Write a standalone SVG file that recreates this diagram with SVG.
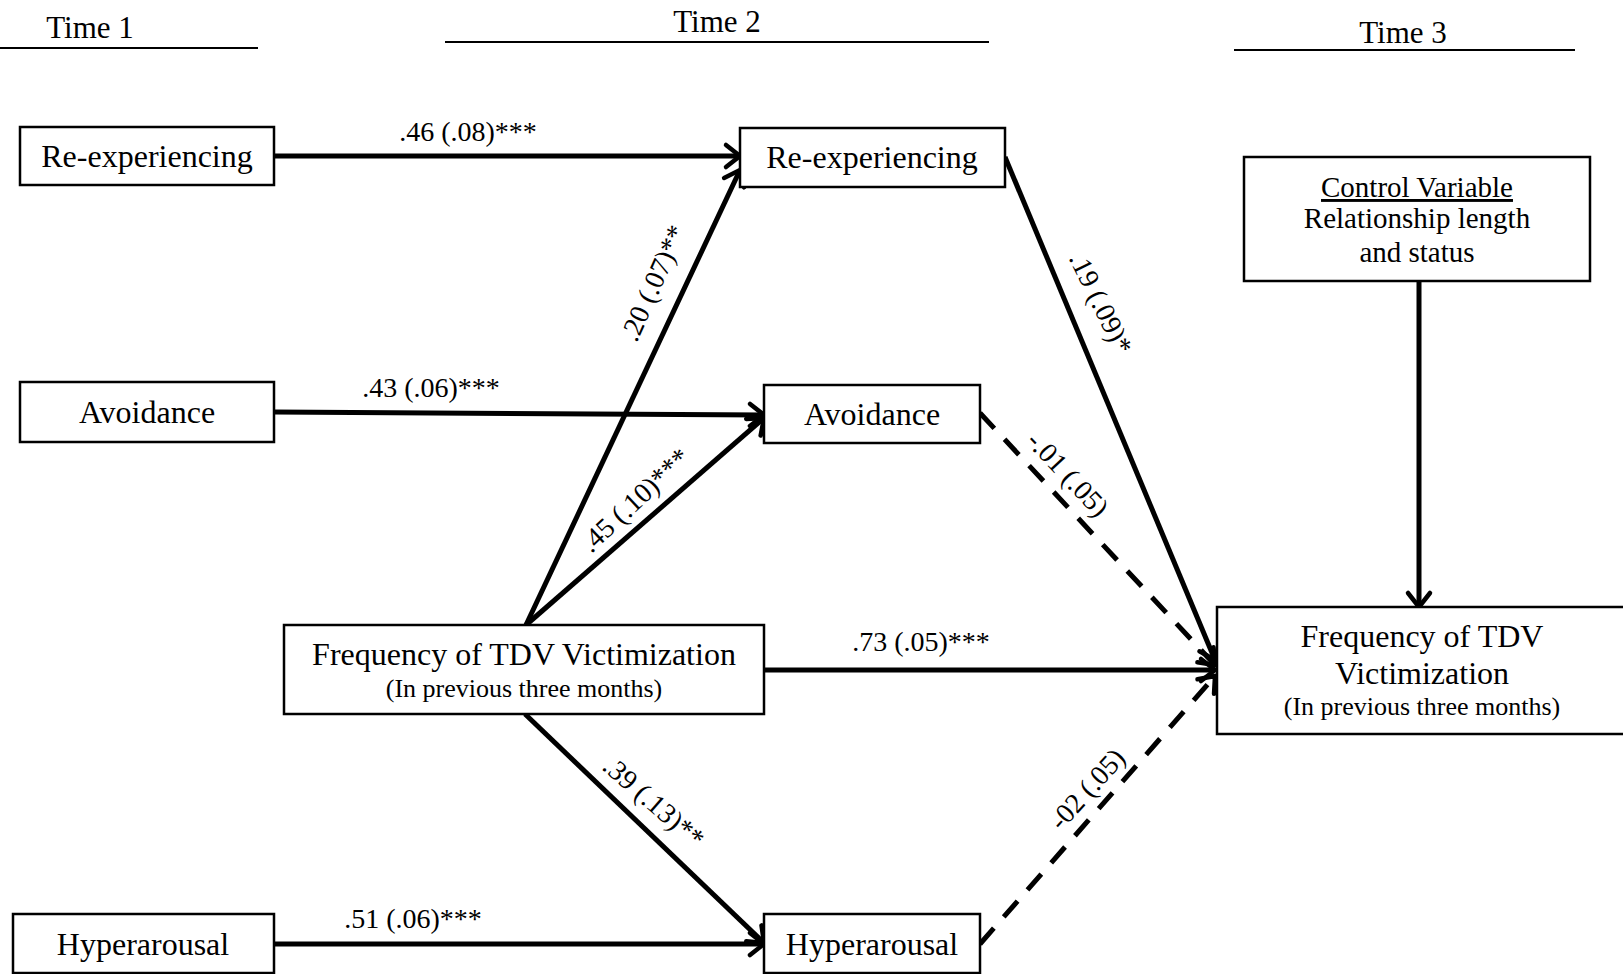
<svg xmlns="http://www.w3.org/2000/svg" width="1623" height="974" viewBox="0 0 1623 974">
<style>
  .box { fill: #fff; stroke: #000; stroke-width: 2.5; }
  .t { font-family: "Liberation Serif", "Times New Roman", serif; fill: #000; text-anchor: middle; }
  .n { font-size: 32px; }
  .s { font-size: 26px; }
  .cv { font-size: 29px; }
  .lab { font-size: 28px; }
  .rl { font-size: 28px; dominant-baseline: central; }
  .hd { font-size: 31px; }
  .rule { stroke: #000; stroke-width: 2; }
  .arr { stroke: #000; stroke-width: 5; fill: none; marker-end: url(#ah); }
  .dash { stroke-dasharray: 21 15; }
</style>
<defs>
  <marker id="ah" markerUnits="userSpaceOnUse" markerWidth="32" markerHeight="32" refX="17" refY="16" orient="auto" overflow="visible">
    <path d="M3,5 L17,16 L3,27" fill="none" stroke="#000" stroke-width="4.5" stroke-linecap="round"/>
  </marker>
</defs>
<rect width="1623" height="974" fill="#fff"/>

<g id="headers">
  <text class="t hd" x="90" y="38">Time 1</text>
  <line class="rule" x1="0" y1="48" x2="258" y2="48"/>
  <text class="t hd" x="717" y="32">Time 2</text>
  <line class="rule" x1="445" y1="42" x2="989" y2="42"/>
  <text class="t hd" x="1403" y="43">Time 3</text>
  <line class="rule" x1="1234" y1="50" x2="1575" y2="50"/>
</g>

<g id="connectors">
  <line class="arr" x1="274" y1="156" x2="740" y2="156"/>
  <line class="arr" x1="274" y1="412" x2="764" y2="415"/>
  <line class="arr" x1="274" y1="944" x2="764" y2="944"/>
  <line class="arr" x1="526" y1="625" x2="740" y2="170"/>
  <line class="arr" x1="526" y1="625" x2="764" y2="418"/>
  <line class="arr" x1="525" y1="714" x2="764" y2="943"/>
  <line class="arr" x1="764" y1="670" x2="1215" y2="670"/>
  <line class="arr" x1="1005" y1="157" x2="1215" y2="660"/>
  <line class="arr dash" x1="980" y1="413" x2="1215" y2="665"/>
  <line class="arr dash" x1="980" y1="944" x2="1215" y2="676"/>
  <line class="arr" x1="1419" y1="281" x2="1419" y2="607"/>
  <text class="t lab" x="468" y="141">.46 (.08)***</text>
  <text class="t lab" x="431" y="397">.43 (.06)***</text>
  <text class="t lab" x="413" y="928">.51 (.06)***</text>
  <text class="t lab" x="921" y="651">.73 (.05)***</text>
  <text class="t rl" transform="translate(653,283) rotate(-66)">.20 (.07)**</text>
  <text class="t rl" transform="translate(635,500) rotate(-43)">.45 (.10)***</text>
  <text class="t rl" transform="translate(1101,303) rotate(64)">.19 (.09)*</text>
  <text class="t rl" transform="translate(1068,474) rotate(47)">-.01 (.05)</text>
  <text class="t rl" transform="translate(654,802) rotate(41)">.39 (.13)**</text>
  <text class="t rl" transform="translate(1087,789) rotate(-48)">-02 (.05)</text>
</g>

<g id="t1-reexp">
  <rect class="box" x="20" y="127" width="254" height="58"/>
  <text class="t n" x="147" y="167">Re-experiencing</text>
</g>
<g id="t1-avoid">
  <rect class="box" x="20" y="382" width="254" height="60"/>
  <text class="t n" x="147" y="423">Avoidance</text>
</g>
<g id="t1-hyper">
  <rect class="box" x="13" y="914" width="261" height="59"/>
  <text class="t n" x="143" y="955">Hyperarousal</text>
</g>
<g id="t2-reexp">
  <rect class="box" x="740" y="128" width="265" height="59"/>
  <text class="t n" x="872" y="168">Re-experiencing</text>
</g>
<g id="t2-avoid">
  <rect class="box" x="764" y="385" width="216" height="58"/>
  <text class="t n" x="872" y="425">Avoidance</text>
</g>
<g id="t2-hyper">
  <rect class="box" x="764" y="914" width="216" height="59"/>
  <text class="t n" x="872" y="955">Hyperarousal</text>
</g>
<g id="t2-tdv">
  <rect class="box" x="284" y="625" width="480" height="89"/>
  <text class="t n" x="524" y="665">Frequency of TDV Victimization</text>
  <text class="t s" x="524" y="697">(In previous three months)</text>
</g>
<g id="control">
  <rect class="box" x="1244" y="157" width="346" height="124"/>
  <text class="t cv" x="1417" y="197" text-decoration="underline">Control Variable</text>
  <text class="t cv" x="1417" y="228">Relationship length</text>
  <text class="t cv" x="1417" y="262">and status</text>
</g>
<g id="t3-tdv">
  <rect class="box" x="1217" y="607" width="420" height="127"/>
  <text class="t n" x="1422" y="647">Frequency of TDV</text>
  <text class="t n" x="1422" y="684">Victimization</text>
  <text class="t s" x="1422" y="715">(In previous three months)</text>
</g>
</svg>
